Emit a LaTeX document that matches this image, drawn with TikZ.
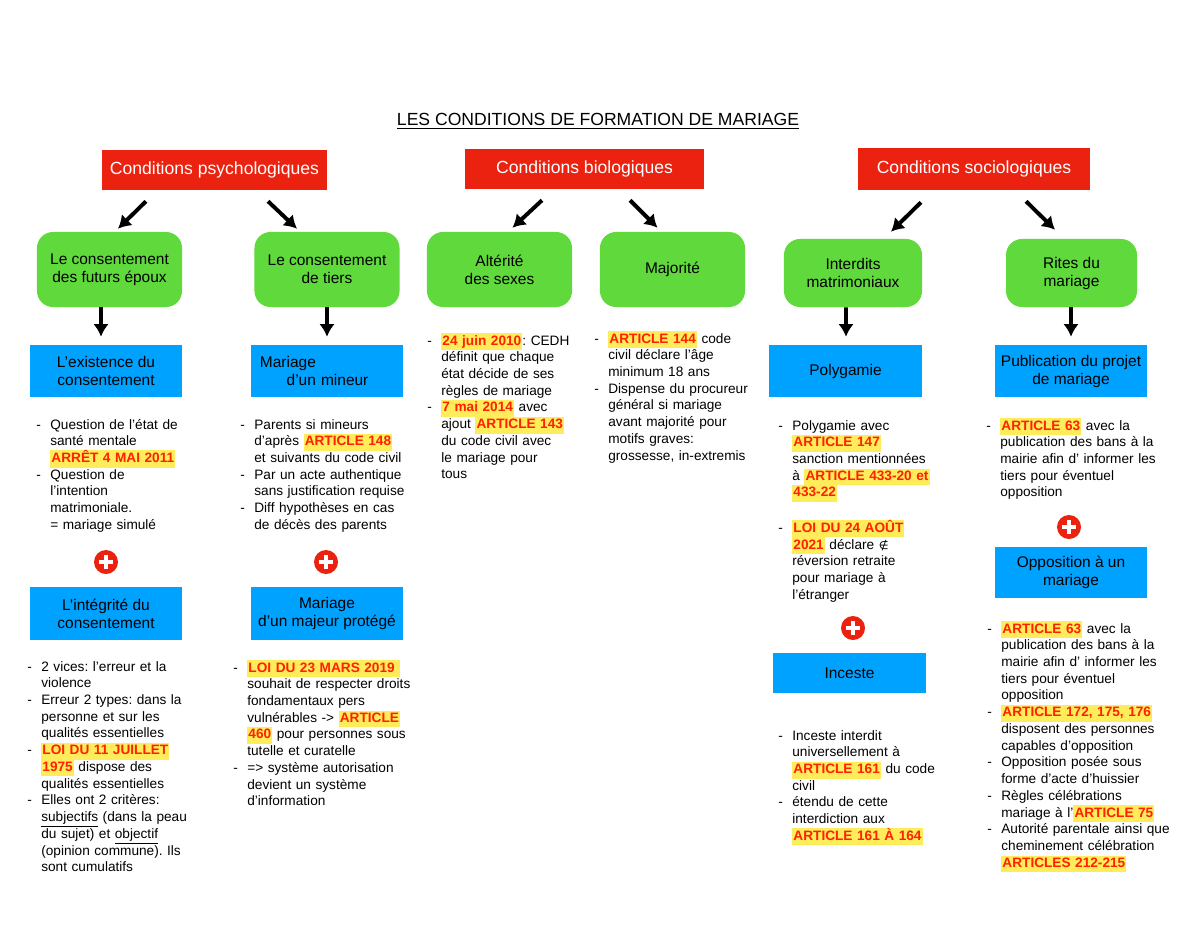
\documentclass[tikz,border=0pt]{standalone}
\usepackage{fontspec}
\setmainfont{Liberation Sans}
\newfontfamily\symboles{DejaVu Sans}
\usepackage{tikz}
\usetikzlibrary{%
  arrows.meta,%
  calc%
}
\frenchspacing
\definecolor{rouge}{RGB}{236,34,16}
\definecolor{vert}{RGB}{96,217,60}
\definecolor{bleu}{RGB}{0,162,255}
\definecolor{jaune}{RGB}{255,236,90}
\definecolor{rougevif}{RGB}{255,32,0}
\newcommand{\hl}[1]{{\setlength{\fboxsep}{0pt}\colorbox{jaune}{\kern0.8pt\strut\textcolor{rougevif}{\bfseries #1}\kern0.8pt}}}
\newenvironment{tirets}{\begin{list}{-}{\setlength{\leftmargin}{10pt}%
    \setlength{\labelwidth}{10pt}\setlength{\labelsep}{0pt}%
    \setlength{\itemsep}{0pt}\setlength{\parsep}{0pt}%
    \setlength{\topsep}{0pt}\setlength{\partopsep}{0pt}%
    \renewcommand{\makelabel}[1]{\strut##1\hfil}}}{\end{list}}
\tikzset{>={Latex[length=9pt,width=11pt]},
  fleche/.style={->, line width=2.8pt},
  categorie/.style={fill=rouge, text=white, minimum height=1cm,
    font=\fontsize{12.5}{14}\selectfont},
  notion/.style={fill=vert, rounded corners=0.4cm, align=center,
    minimum width=3.625cm, minimum height=1.875cm,
    font=\fontsize{11}{12.8}\selectfont},
  theme/.style={fill=bleu, align=center, minimum width=3.8cm,
    minimum height=1.3cm, font=\fontsize{11}{12.8}\selectfont},
  texte/.style={anchor=north west, inner sep=0pt, text width=4.6cm,
    font=\fontsize{9.7}{11.9}\selectfont},
  plus/.style={circle, fill=rouge, minimum size=0.6cm, inner sep=0pt,
    path picture={\draw[white, line width=2.4pt]
      ([xshift=-0.18cm]path picture bounding box.center) --
      ([xshift=0.18cm]path picture bounding box.center)
      ([yshift=-0.18cm]path picture bounding box.center) --
      ([yshift=0.18cm]path picture bounding box.center);}}}

\begin{document}
\begin{tikzpicture}[x=0.025cm, y=-0.025cm]
        \fill[white] (0,0) rectangle (1200,927);
        \useasboundingbox (0,0) rectangle (1200,927);

        \node[font=\fontsize{12.5}{15}\selectfont] (titre) at (598,121)
        {\underline{LES CONDITIONS DE FORMATION DE MARIAGE}};

        \node[categorie, minimum width=5.625cm] (psy) at (214.5,170) {Conditions psychologiques};
        \node[categorie, minimum width=5.975cm] (bio) at (584.5,169) {Conditions biologiques};
        \node[categorie, minimum width=5.8cm, minimum height=1.05cm] (soc) at (974,169) {Conditions sociologiques};

        \node[notion] (futurs) at (109.5,269.5) {Le consentement\\des futurs époux};
        \node[notion] (tiers) at (327,269.5) {Le consentement\\de tiers};
        \node[notion] (alterite) at (499.5,269.5) {Altérité\\des sexes};
        \node[notion] (majorite) at (672.5,269.5) {Majorité};
        \node[notion, minimum width=3.45cm, minimum height=1.7cm] (interdits) at (853,273) {Interdits\\matrimoniaux};
        \node[notion, minimum width=3.275cm, minimum height=1.7cm] (rites) at (1071.5,273) {Rites du\\mariage};

        \draw[fleche] ($(psy.south)+(-68.5,11)$) -- ($(futurs.north)+(8.5,-3)$);
        \draw[fleche] ($(psy.south)+(53.5,11)$) -- ($(tiers.north)+(-30,-3)$);
        \draw[fleche] ($(bio.south)+(-42.5,11)$) -- ($(alterite.north)+(13,-4)$);
        \draw[fleche] ($(bio.south)+(45.5,11)$) -- ($(majorite.north)+(-15,-4)$);
        \draw[fleche] ($(soc.south)+(-53,12)$) -- ($(interdits.north)+(38,-7)$);
        \draw[fleche] ($(soc.south)+(52,11)$) -- ($(rites.north)+(-16.5,-9)$);

        \node[theme] (existence) at (106,371) {L’existence du\\consentement};
        \node[theme, align=left, text width=3.35cm, inner xsep=0.225cm] (mineur) at (327,371)
        {Mariage\\\hspace*{19pt}d’un mineur};
        \node[theme, minimum width=3.825cm] (polygamie) at (845.5,371) {Polygamie};
        \node[theme] (publication) at (1071,371) {Publication du projet\\de mariage};

        \draw[fleche] ($(futurs.south)+(-8.5,0)$) -- ($(existence.north)+(-5,-8)$);
        \draw[fleche] (tiers.south) -- ($(mineur.north)+(0,-8)$);
        \draw[fleche] ($(interdits.south)+(-7,0)$) -- ($(polygamie.north)+(0.5,-8)$);
        \draw[fleche] ($(rites.south)+(-0.5,0)$) -- ($(publication.north)+(0,-8)$);

        \node[texte] (txtexistence) at (36,412) {\begin{tirets}
        \item Question de l’état de\\ santé mentale\\ \hl{ARRÊT 4 MAI 2011}
        \item Question de\\ l’intention\\ matrimoniale.\\ = mariage simulé
        \end{tirets}};
        \node[texte] (txtmineur) at (240,412) {\begin{tirets}
        \item Parents si mineurs\\ d’après \hl{ARTICLE 148}\\ et suivants du code civil
        \item Par un acte authentique\\ sans justification requise
        \item Diff hypothèses en cas\\ de décès des parents
        \end{tirets}};
        \node[texte] (txtalterite) at (427,328) {\begin{tirets}
        \item \hl{24 juin 2010}: CEDH\\ définit que chaque\\ état décide de ses\\ règles de mariage
        \item \hl{7 mai 2014} avec\\ ajout \hl{ARTICLE 143}\\ du code civil avec\\ le mariage pour\\ tous
        \end{tirets}};
        \node[texte] (txtmajorite) at (594,326) {\begin{tirets}
        \item \hl{ARTICLE 144} code\\ civil déclare l’âge\\ minimum 18 ans
        \item Dispense du procureur\\ général si mariage\\ avant majorité pour\\ motifs graves:\\ grossesse, in-extremis
        \end{tirets}};
        \node[texte] (txtpolygamie) at (778,413) {\begin{tirets}
        \item Polygamie avec\\ \hl{ARTICLE 147}\\ sanction mentionnées\\ à \hl{ARTICLE 433-20 et}\\ \hl{433-22}
        \item[] \mbox{}
        \item \hl{LOI DU 24 AOÛT}\\ \hl{2021} déclare {\symboles\fontsize{8}{10}\selectfont ∉}\\ réversion retraite\\ pour mariage à\\ l’étranger
        \end{tirets}};
        \node[texte] (txtpublication) at (986,413) {\begin{tirets}
        \item \hl{ARTICLE 63} avec la\\ publication des bans à la\\ mairie afin d’ informer les\\ tiers pour éventuel\\ opposition
        \end{tirets}};

        \node[plus] (plusA) at (106,562) {};
        \node[plus] (plusB) at (326,562) {};
        \node[plus] (plusC) at (853,628) {};
        \node[plus] (plusD) at (1069,527) {};

        \node[theme, minimum height=1.325cm] (integrite) at (106,613.5) {L’intégrité du\\consentement};
        \node[theme, minimum height=1.325cm] (protege) at (327,613.5) {Mariage\\d’un majeur protégé};
        \node[theme, minimum width=3.825cm, minimum height=1cm] (inceste) at (849.5,673) {Inceste};
        \node[theme, minimum height=1.275cm] (opposition) at (1071,572.5) {Opposition à un\\mariage};

        \node[texte] (txtintegrite) at (27,654) {\begin{tirets}
        \item 2 vices: l’erreur et la\\ violence
        \item Erreur 2 types: dans la\\ personne et sur les\\ qualités essentielles
        \item \hl{LOI DU 11 JUILLET}\\ \hl{1975} dispose des\\ qualités essentielles
        \item Elles ont 2 critères:\\ \underline{subjectifs} (dans la peau\\ du sujet) et \underline{objectif}\\ (opinion commune). Ils\\ sont cumulatifs
        \end{tirets}};
        \node[texte] (txtprotege) at (233,655) {\begin{tirets}
        \item \hl{LOI DU 23 MARS 2019\ }\\ souhait de respecter droits\\ fondamentaux pers\\ vulnérables -> \hl{ARTICLE}\\ \hl{460} pour personnes sous\\ tutelle et curatelle
        \item => système autorisation\\ devient un système\\ d’information
        \end{tirets}};
        \node[texte] (txtinceste) at (778,723) {\begin{tirets}
        \item Inceste interdit\\ universellement à\\ \hl{ARTICLE 161} du code\\ civil
        \item étendu de cette\\ interdiction aux\\ \hl{ARTICLE 161 À 164}
        \end{tirets}};
        \node[texte] (txtopposition) at (987,616) {\begin{tirets}
        \item \hl{ARTICLE 63} avec la\\ publication des bans à la\\ mairie afin d’ informer les\\ tiers pour éventuel\\ opposition
        \item \hl{ARTICLE 172, 175, 176}\\ disposent des personnes\\ capables d’opposition
        \item Opposition posée sous\\ forme d’acte d’huissier
        \item Règles célébrations\\ mariage à l’\hl{ARTICLE 75}
        \item Autorité parentale ainsi que\\ cheminement célébration\\ \hl{ARTICLES 212-215}
        \end{tirets}};
\end{tikzpicture}
\end{document}
